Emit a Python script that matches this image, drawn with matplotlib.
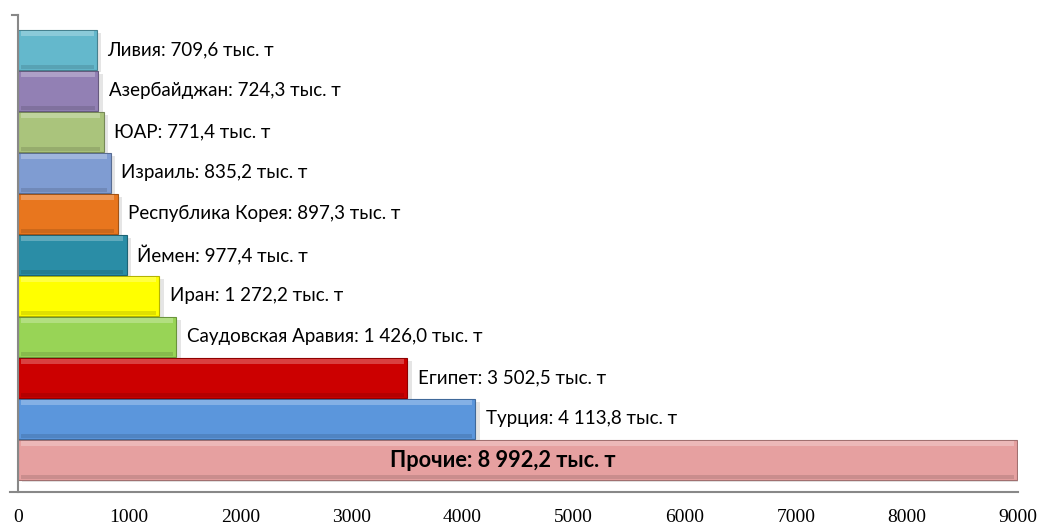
import matplotlib
matplotlib.use("Agg")
import matplotlib.pyplot as plt
import matplotlib.colors as mcolors
import numpy as np

# Data (bottom to top)
countries = ["Прочие", "Турция", "Египет", "Саудовская Аравия", "Иран", "Йемен",
             "Республика Корея", "Израиль", "ЮАР", "Азербайджан", "Ливия"]
values = [8992.2, 4113.8, 3502.5, 1426.0, 1272.2, 977.4, 897.3, 835.2, 771.4, 724.3, 709.6]
labels = ["Прочие: 8 992,2 тыс. т", "Турция: 4 113,8 тыс. т", "Египет: 3 502,5 тыс. т",
          "Саудовская Аравия: 1 426,0 тыс. т", "Иран: 1 272,2 тыс. т", "Йемен: 977,4 тыс. т",
          "Республика Корея: 897,3 тыс. т", "Израиль: 835,2 тыс. т", "ЮАР: 771,4 тыс. т",
          "Азербайджан: 724,3 тыс. т", "Ливия: 709,6 тыс. т"]
colors = ["#E6A0A0", "#5B96DC", "#CC0000", "#98D456", "#FFFF00", "#2A8DA6",
          "#E8761E", "#7F9CD2", "#AAC47C", "#9280B4", "#64B8CC"]
xticks = [0, 1000, 2000, 3000, 4000, 5000, 6000, 7000, 8000, 9000]

fig = plt.figure(figsize=(10.41, 5.26), dpi=100)
ax = fig.add_axes([18/1041, 1 - 492/526, 1000/1041, (492 - 15)/526])

y = np.arange(len(values))
h = 0.96

def shade(c, f):
    r = np.array(mcolors.to_rgb(c))
    if f > 0:
        return tuple(r + (1 - r) * f)
    return tuple(r * (1 + f))

# shadow
ax.barh(y - 0.06, values, height=h, left=40, color="#000000", alpha=0.10, zorder=1)
# main bars
ax.barh(y, values, height=h, color=colors, edgecolor=[shade(c, -0.3) for c in colors],
        linewidth=0.8, zorder=2)
# bevel highlight top
ax.barh(y + h/2 - 0.08, np.array(values) - 60, height=0.12, left=30,
        color=[shade(c, 0.25) for c in colors], linewidth=0, zorder=3)
# bevel shade bottom
ax.barh(y - h/2 + 0.07, np.array(values) - 60, height=0.10, left=30,
        color=[shade(c, -0.12) for c in colors], linewidth=0, zorder=3)

lab_font = ["Lato", "DejaVu Sans"]
for i, (v, t) in enumerate(zip(values, labels)):
    if i == 0:
        ax.text(v * 0.485, y[i], t, ha="center", va="center", fontsize=15.7,
                fontweight="bold", family=lab_font, color="black", zorder=5)
    else:
        ax.text(v + 95, y[i], t, ha="left", va="center", fontsize=13.5,
                family=lab_font, color="black", zorder=5)

ax.set_xlim(0, 9000)
ax.set_ylim(-0.78, len(values) - 1 + 0.85)
ax.set_xticks(xticks)
ax.set_xticklabels([str(t) for t in xticks], family="Liberation Serif", fontsize=14)
ax.set_yticks([])
ax.tick_params(axis="x", length=0, pad=12)
for s in ["top", "right"]:
    ax.spines[s].set_visible(False)
ax.spines["left"].set_color("#888888")
ax.spines["bottom"].set_color("#888888")
ax.spines["bottom"].set_bounds(-70, 9000)
ax.spines["left"].set_linewidth(1.5)
ax.spines["bottom"].set_linewidth(1.5)
ax.plot([-55, 0], [len(values) - 1 + 0.85] * 2, color="#888888", lw=1.5, clip_on=False)

fig.savefig("out.png", dpi=100)
